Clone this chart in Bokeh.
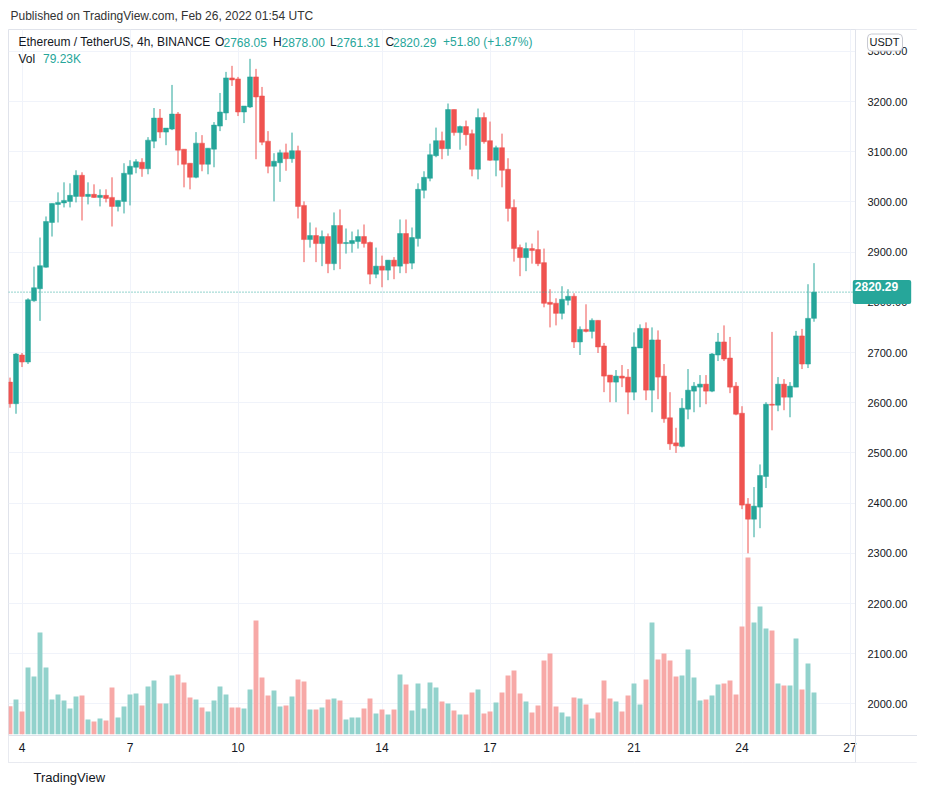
from bokeh.plotting import figure
from bokeh.models import (Range1d, FixedTicker, Span, Label, Title,
                          ColumnDataSource, NumeralTickFormatter)
from bokeh.embed import file_html
from bokeh.resources import INLINE

# 4h candles, first = Feb 3 16:00 UTC, last = Feb 26 00:00 UTC
opens = [2641, 2598, 2695, 2681, 2803, 2827, 2870, 2959, 2995, 2998,
         3001, 3011, 3053, 3011, 3015, 3009, 3013, 3009, 2991, 3001,
         3055, 3069, 3079, 3066, 3121, 3167, 3139, 3145, 3175, 3105,
         3077, 3049, 3117, 3075, 3105, 3151, 3177, 3247, 3245, 3179,
         3189, 3249, 3211, 3121, 3071, 3078, 3098, 3086, 3102, 2993,
         2925, 2933, 2917, 2931, 2877, 2953, 2917, 2917, 2921, 2931,
         2919, 2856, 2872, 2864, 2884, 2872, 2937, 2878, 2927, 3023,
         3047, 3092, 3122, 3106, 3184, 3138, 3150, 3136, 3065, 3168,
         3122, 3083, 3108, 3065, 2989, 2909, 2889, 2907, 2905, 2879,
         2800, 2798, 2778, 2804, 2812, 2721, 2746, 2742, 2764, 2713,
         2655, 2641, 2653, 2651, 2621, 2709, 2748, 2625, 2725, 2653,
         2570, 2520, 2513, 2587, 2623, 2631, 2637, 2623, 2695, 2721,
         2689, 2633, 2579, 2398, 2368, 2392, 2453, 2597, 2595, 2637,
         2611, 2631, 2733, 2677, 2768.05]
highs = [2650, 2699, 2699, 2808, 2871, 2929, 2971, 2997, 3019, 3039,
         3037, 3063, 3059, 3039, 3035, 3025, 3025, 3049, 3003, 3077,
         3083, 3085, 3087, 3129, 3187, 3185, 3147, 3233, 3179, 3105,
         3077, 3139, 3133, 3107, 3159, 3217, 3259, 3271, 3249, 3191,
         3285, 3265, 3229, 3141, 3097, 3104, 3116, 3138, 3112, 3001,
         2959, 2949, 2943, 2937, 2979, 2985, 2947, 2941, 2945, 2955,
         2921, 2909, 2893, 2884, 2890, 2965, 2965, 2949, 3037, 3061,
         3116, 3148, 3140, 3196, 3184, 3152, 3162, 3144, 3186, 3178,
         3160, 3112, 3136, 3087, 3005, 2915, 2919, 2917, 2943, 2907,
         2826, 2808, 2832, 2826, 2818, 2752, 2796, 2768, 2764, 2719,
         2655, 2665, 2675, 2667, 2740, 2756, 2760, 2750, 2744, 2677,
         2621, 2550, 2609, 2667, 2641, 2655, 2655, 2699, 2739, 2754,
         2731, 2641, 2593, 2410, 2432, 2477, 2601, 2741, 2651, 2647,
         2641, 2743, 2747, 2836, 2878.00]
lows = [2590, 2578, 2671, 2677, 2801, 2763, 2869, 2931, 2959, 2989,
        2989, 2999, 2963, 2995, 3008, 2991, 2999, 2951, 2981, 2977,
        2993, 3057, 3050, 3055, 3107, 3127, 3113, 3143, 3073, 3029,
        3025, 3047, 3061, 3055, 3069, 3141, 3163, 3231, 3171, 3157,
        3187, 3085, 3113, 3057, 3001, 3040, 3062, 3078, 2967, 2880,
        2909, 2880, 2872, 2858, 2864, 2866, 2897, 2899, 2907, 2909,
        2836, 2848, 2830, 2844, 2846, 2858, 2858, 2866, 2911, 3007,
        3041, 3089, 3085, 3092, 3132, 3104, 3112, 3051, 3045, 3116,
        3082, 3051, 3029, 2961, 2881, 2852, 2862, 2877, 2872, 2790,
        2750, 2754, 2766, 2794, 2709, 2695, 2740, 2728, 2699, 2621,
        2601, 2601, 2631, 2577, 2605, 2709, 2605, 2581, 2607, 2560,
        2506, 2500, 2511, 2567, 2581, 2591, 2597, 2621, 2683, 2683,
        2619, 2575, 2388, 2300, 2332, 2350, 2430, 2545, 2583, 2585,
        2571, 2631, 2667, 2669, 2761.31]
closes = [2598, 2697, 2681, 2805, 2829, 2873, 2961, 2997, 2999, 3003,
          3013, 3053, 3011, 3015, 3009, 3013, 3007, 2991, 3003, 3057,
          3071, 3080, 3066, 3123, 3167, 3139, 3147, 3175, 3103, 3075,
          3049, 3117, 3075, 3107, 3153, 3179, 3247, 3243, 3179, 3191,
          3249, 3209, 3119, 3071, 3081, 3098, 3086, 3102, 2991, 2925,
          2933, 2917, 2931, 2877, 2953, 2917, 2919, 2923, 2931, 2917,
          2856, 2872, 2864, 2884, 2872, 2937, 2877, 2929, 3025, 3049,
          3094, 3122, 3106, 3184, 3138, 3150, 3134, 3065, 3168, 3120,
          3083, 3108, 3063, 2987, 2907, 2889, 2907, 2903, 2877, 2798,
          2796, 2778, 2806, 2812, 2721, 2746, 2742, 2764, 2711, 2653,
          2641, 2653, 2649, 2621, 2711, 2748, 2625, 2725, 2651, 2568,
          2518, 2514, 2589, 2625, 2633, 2637, 2623, 2697, 2721, 2687,
          2631, 2577, 2396, 2368, 2394, 2455, 2597, 2595, 2637, 2611,
          2633, 2733, 2677, 2768, 2820.29]
volumes_k = [53.2, 65.9, 43.1, 126.7, 109.6, 193.3, 126.7, 65.9, 75.4, 64.0,
             48.8, 71.6, 73.5, 27.9, 24.1, 29.8, 26.0, 88.7, 31.7, 52.6,
             75.4, 77.3, 54.5, 90.6, 102.0, 58.3, 58.3, 111.5, 113.4, 98.2,
             69.7, 65.9, 50.7, 43.1, 64.0, 90.6, 75.4, 50.7, 50.7, 48.8,
             84.9, 216.1, 107.7, 73.5, 83.0, 52.6, 54.5, 71.6, 103.9, 100.1,
             46.9, 46.9, 50.7, 65.9, 67.8, 64.0, 27.9, 31.7, 31.7, 48.8,
             67.8, 39.3, 46.9, 37.4, 46.9, 113.4, 94.4, 45.0, 96.3, 48.8,
             98.2, 88.7, 62.1, 58.3, 45.0, 37.4, 37.4, 79.2, 84.9, 39.3,
             43.1, 60.2, 79.2, 111.5, 121.0, 77.3, 62.1, 41.2, 54.5, 140.0,
             153.4, 52.6, 41.2, 33.6, 69.7, 67.8, 56.4, 29.8, 41.2, 102.0,
             67.8, 62.1, 43.1, 73.5, 96.3, 56.4, 103.9, 212.3, 141.9, 153.4,
             140.0, 109.6, 111.5, 161.0, 107.7, 64.0, 65.9, 73.5, 94.4, 96.3,
             102.0, 75.4, 204.7, 335.9, 212.3, 242.7, 200.9, 197.1, 96.3, 92.5,
             92.5, 181.9, 84.9, 134.3, 79.23]

tick_days = [4, 7, 10, 14, 17, 21, 24, 27]
price_ticks = list(range(2000, 3400, 100))
last_price = 2820.29

UP = "#26a69a"
DOWN = "#ef5350"
UP_VOL = "#92d2cc"
DOWN_VOL = "#f7a9a7"
TXT = "#131722"
BORDER = "#e0e3eb"

n = len(opens)
xs = list(range(n))
up = [c >= o for o, c in zip(opens, closes)]
src = ColumnDataSource(dict(
    x=xs, o=opens, h=highs, l=lows, c=closes, v=volumes_k,
    top=[max(o, c) for o, c in zip(opens, closes)],
    bot=[min(o, c) for o, c in zip(opens, closes)],
    col=[UP if u else DOWN for u in up],
    vcol=[UP_VOL if u else DOWN_VOL for u in up],
))

# first candle: Feb 3 16:00 -> Feb 4 00:00 is index 2
tick_idx = [(d - 4) * 6 + 2 for d in tick_days]


# page-pixel <-> data helpers (6 px per 4h candle, 0.502 px per USDT)
def px_to_x(px):
    return (px - 9.5) / 6.0


def py_to_y(py):
    return 3200 + (101 - py) / 0.502


def py_to_vol(py):
    return (733.7 - py) * 1.901


# the frame covers the whole bordered box (pane + price scale + time scale)
FL, FR, FT, FB = 8, 917, 29, 762
PANE_R, PANE_B = 855, 735

p = figure(width=917, height=790, output_backend="svg", toolbar_location=None,
           x_range=Range1d(px_to_x(FL), px_to_x(FR)),
           y_range=Range1d(py_to_y(FB), py_to_y(FT)),
           y_axis_location="right",
           min_border_left=FL, min_border_right=0, min_border_top=FT,
           min_border_bottom=790 - FB)
p.extra_y_ranges = {"vol": Range1d(py_to_vol(FB), py_to_vol(FT))}

p.background_fill_color = "white"
p.border_fill_color = "white"
p.outline_line_color = BORDER

# title (header) and footer
p.title.text = "Published on TradingView.com, Feb 26, 2022 01:54 UTC"
p.title.text_font = "Liberation Sans"
p.title.text_font_size = "12px"
p.title.text_font_style = "normal"
p.title.text_color = "#333333"
p.title.standoff = 13
p.title.offset = 2
p.add_layout(Title(text="TradingView", text_font="Liberation Sans",
                   text_font_size="13px", text_font_style="normal",
                   text_color="#131722", offset=25), "below")

# axes (labels pulled back inside the bordered box)
p.yaxis.ticker = FixedTicker(ticks=price_ticks)
p.yaxis.formatter = NumeralTickFormatter(format="0.00")
p.yaxis.major_label_text_font = "Liberation Sans"
p.yaxis.major_label_text_font_size = "11px"
p.yaxis.major_label_text_color = TXT
p.yaxis.major_tick_line_color = None
p.yaxis.minor_tick_line_color = None
p.yaxis.axis_line_color = None
p.yaxis.major_label_standoff = 861 - FR

p.xaxis.ticker = FixedTicker(ticks=tick_idx)
p.xaxis.major_label_overrides = {t: str(d) for t, d in zip(tick_idx, tick_days)}
p.xaxis.major_label_text_font = "Liberation Sans"
p.xaxis.major_label_text_font_size = "12px"
p.xaxis.major_label_text_color = TXT
p.xaxis.major_tick_line_color = None
p.xaxis.minor_tick_line_color = None
p.xaxis.axis_line_color = None
p.xaxis.major_label_standoff = 736 - FB

p.xgrid.grid_line_color = "#f0f3fa"
p.ygrid.grid_line_color = "#f0f3fa"

# volume
p.vbar(x="x", top="v", bottom=0, width=0.82, source=src, fill_color="vcol",
       line_color=None, y_range_name="vol")

# candles
p.segment(x0="x", y0="h", x1="x", y1="l", source=src, line_color="col", line_width=1)
p.vbar(x="x", top="top", bottom="bot", width=0.82, source=src, fill_color="col",
       line_color="col", line_width=0.5)

# last price dotted line across the pane
p.segment(x0=[px_to_x(FL)], y0=[closes[-1]], x1=[px_to_x(PANE_R)], y1=[closes[-1]],
          line_color=UP, line_dash="1 2", line_width=1)

# blank price-scale and time-scale strips (hide grid there)
p.quad(left=[px_to_x(PANE_R), px_to_x(FL)], right=[px_to_x(FR), px_to_x(FR)],
       bottom=[py_to_y(FB), py_to_y(FB)], top=[py_to_y(FT), py_to_y(PANE_B)],
       fill_color="white", line_color=None)

# separators
p.add_layout(Span(location=px_to_x(PANE_R), dimension="height",
                  line_color=BORDER, line_width=1))
p.add_layout(Span(location=py_to_y(PANE_B), dimension="width",
                  line_color=BORDER, line_width=1))

# legend/header inside pane
row1 = [
    ("Ethereum / TetherUS, 4h, BINANCE", 18, TXT),
    ("O", 214.5, TXT), ("%.2f" % opens[-1], 223, UP),
    ("H", 272.5, TXT), ("%.2f" % highs[-1], 281, UP),
    ("L", 329.5, TXT), ("%.2f" % lows[-1], 336, UP),
    ("C", 385, TXT), ("%.2f" % closes[-1], 392.5, UP),
    ("+51.80 (+1.87%)", 442.5, UP),
]
for txt, px, col in row1:
    p.add_layout(Label(x=px_to_x(px), y=py_to_y(41.5), text=txt, text_color=col,
                       text_font="Liberation Sans", text_font_size="12px",
                       text_baseline="middle", text_align="left"))
for txt, px, col in [("Vol", 18, TXT), ("%.2fK" % volumes_k[-1], 42.5, UP)]:
    p.add_layout(Label(x=px_to_x(px), y=py_to_y(58), text=txt, text_color=col,
                       text_font="Liberation Sans", text_font_size="12px",
                       text_baseline="middle", text_align="left"))

# last price tag on the price scale and currency box
p.add_layout(Label(x=px_to_x(881.5), y=closes[-1], text="%.2f" % closes[-1],
                   text_color="white", text_font="Liberation Sans",
                   text_font_size="12px", text_font_style="bold",
                   text_align="center", text_baseline="middle",
                   background_fill_color=UP, padding=(2, 13, 2, 13),
                   border_radius=2))
p.add_layout(Label(x=px_to_x(884.5), y=py_to_y(42), text="USDT",
                   text_color=TXT, text_font="Liberation Sans",
                   text_font_size="11px", text_align="center",
                   text_baseline="middle", background_fill_color="white",
                   border_line_color="#c8cad2", padding=(2, 3, 2, 3),
                   border_radius=4))

open("out.html", "w").write(file_html(p, INLINE))
